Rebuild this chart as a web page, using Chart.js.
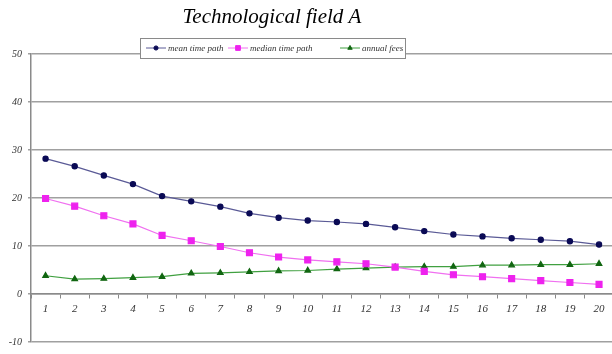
<!DOCTYPE html>
<html>
<head>
<meta charset="utf-8">
<script src="https://cdn.jsdelivr.net/npm/chart.js@4.4.0/dist/chart.umd.min.js"></script>
<style>
  html, body { margin: 0; padding: 0; background: #fff; overflow: hidden; }
  #wrap { width: 619px; height: 354px; }
</style>
</head>
<body>
<div id="wrap"><canvas id="chart"></canvas></div>
<script>
const periods = ['1','2','3','4','5','6','7','8','9','10','11','12','13','14','15','16','17','18','19','20'];
const meanPath = [28.2, 26.6, 24.7, 22.9, 20.4, 19.3, 18.2, 16.8, 15.9, 15.3, 15.0, 14.6, 13.9, 13.1, 12.4, 12.0, 11.6, 11.3, 11.0, 10.3];
const medianPath = [19.9, 18.3, 16.3, 14.6, 12.2, 11.1, 9.9, 8.6, 7.7, 7.1, 6.7, 6.3, 5.6, 4.7, 4.0, 3.6, 3.2, 2.8, 2.4, 2.0];
const annualFees = [3.8, 3.1, 3.2, 3.4, 3.6, 4.3, 4.4, 4.6, 4.8, 4.9, 5.2, 5.4, 5.6, 5.7, 5.7, 6.0, 6.0, 6.1, 6.1, 6.3];
const chartTitle = 'Technological field A';

const serif = "'Liberation Serif', 'DejaVu Serif', serif";

// title and legend box sit over the top of the plot, like the original
const boxLegend = {
    id: 'boxLegend',
    afterDraw(chart) {
        const ctx = chart.ctx;
        ctx.save();
        ctx.fillStyle = '#000';
        ctx.font = 'italic 21px ' + serif;
        ctx.textAlign = 'center';
        ctx.textBaseline = 'alphabetic';
        ctx.fillText(chartTitle, 272, 23);

        const x0 = 140, y0 = 38, w = 265, h = 20;
        ctx.fillStyle = '#fff';
        ctx.fillRect(x0, y0, w, h);
        ctx.strokeStyle = '#8a8a8a';
        ctx.lineWidth = 1;
        ctx.strokeRect(x0 + 0.5, y0 + 0.5, w, h);
        ctx.font = 'italic 9px ' + serif;
        ctx.textAlign = 'left';
        ctx.textBaseline = 'middle';
        const starts = [146, 228, 340];
        const cy = y0 + h / 2;
        chart.data.datasets.forEach((ds, i) => {
            const sx = starts[i];
            ctx.strokeStyle = ds.borderColor;
            ctx.lineWidth = 1;
            ctx.beginPath();
            ctx.moveTo(sx, cy);
            ctx.lineTo(sx + 20, cy);
            ctx.stroke();
            ctx.fillStyle = ds.pointBackgroundColor;
            ctx.strokeStyle = ds.pointBackgroundColor;
            Chart.helpers.drawPoint(ctx, { pointStyle: ds.pointStyle, radius: ds.pointRadius * 0.8, borderWidth: 1 }, sx + 10, cy);
            ctx.fillStyle = '#333';
            ctx.fillText(ds.label, sx + 22, cy + 0.5);
        });
        ctx.restore();
    }
};

new Chart(document.getElementById('chart'), {
    type: 'line',
    data: {
        labels: periods,
        datasets: [{
            label: 'mean time path',
            data: meanPath,
            borderColor: '#5a5a96',
            borderWidth: 1.2,
            pointStyle: 'circle',
            pointRadius: 2.6,
            pointBackgroundColor: '#0a0a55',
            pointBorderColor: '#0a0a55',
            tension: 0
        }, {
            label: 'median time path',
            data: medianPath,
            borderColor: '#f070f0',
            borderWidth: 1.2,
            pointStyle: 'rect',
            pointRadius: 4.2,
            pointBackgroundColor: '#ee22ee',
            pointBorderColor: '#ee22ee',
            tension: 0
        }, {
            label: 'annual fees',
            data: annualFees,
            borderColor: '#40a040',
            borderWidth: 1.2,
            pointStyle: 'triangle',
            pointRadius: 3.2,
            pointBackgroundColor: '#116611',
            pointBorderColor: '#116611',
            tension: 0
        }]
    },
    options: {
        responsive: true,
        maintainAspectRatio: false,
        animation: false,
        layout: { padding: { left: 0, right: 0, top: 54, bottom: 10 } },
        plugins: {
            legend: { display: false },
            tooltip: { enabled: false },
            title: { display: false }
        },
        scales: {
            x: {
                position: { y: 0 },
                offset: true,
                afterFit: s => { s.height = 0; },
                grid: {
                    offset: true,
                    drawOnChartArea: false,
                    drawTicks: true,
                    tickLength: 4,
                    color: '#888'
                },
                border: { display: true, color: '#8a8a8a', width: 1.5 },
                ticks: {
                    color: '#333',
                    padding: 5,
                    maxRotation: 0,
                    autoSkip: false,
                    font: { family: serif, size: 11, style: 'italic' }
                }
            },
            y: {
                min: -10,
                max: 50,
                afterFit: s => { s.width = 31; },
                grid: {
                    color: '#a0a0a0',
                    lineWidth: 1.5,
                    tickLength: 3
                },
                border: { display: true, color: '#8a8a8a', width: 1.5 },
                ticks: {
                    stepSize: 10,
                    color: '#333',
                    padding: 6,
                    font: { family: serif, size: 10, style: 'italic' }
                }
            }
        }
    },
    plugins: [boxLegend]
});
</script>
</body>
</html>
